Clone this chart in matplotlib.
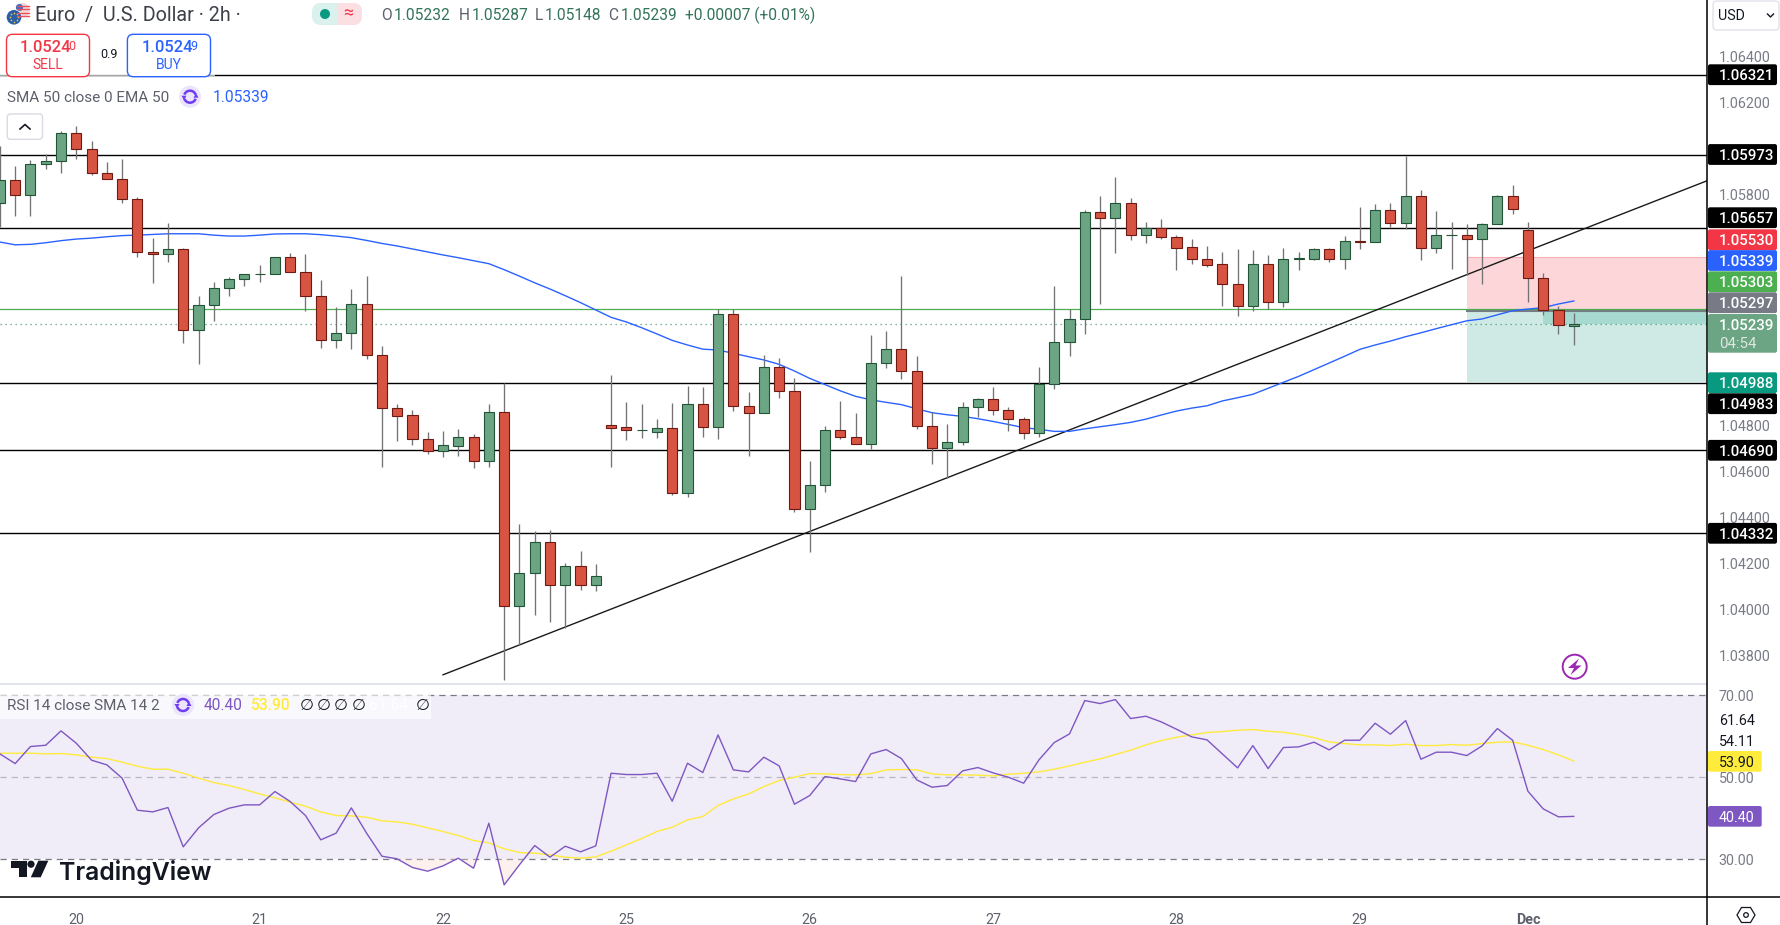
import matplotlib
matplotlib.use('Agg')
import matplotlib.pyplot as plt
import numpy as np
from matplotlib.patches import Circle, FancyBboxPatch, Polygon, Rectangle, Arc

plt.rcParams['font.family'] = ['Roboto', 'DejaVu Sans']

# candles
opens = [1.05763, 1.05863, 1.05798, 1.05932, 1.05945, 1.06067, 1.05997, 1.05893, 1.05867, 1.05780,
         1.05550, 1.05541, 1.05563, 1.05211, 1.05320, 1.05394, 1.05433, 1.05455, 1.05455, 1.05528,
         1.05463, 1.05359, 1.05168, 1.05198, 1.05324, 1.05103, 1.04873, 1.04842, 1.04738, 1.04686,
         1.04711, 1.04747, 1.04643, 1.04855, 1.04013, 1.04160, 1.04291, 1.04104, 1.04187, 1.04104,
         1.04799, 1.04790, 1.04777, 1.04771, 1.04786, 1.04504, 1.04890, 1.04790, 1.05281, 1.04881,
         1.04854, 1.05051, 1.04947, 1.04434, 1.04538, 1.04777, 1.04747, 1.04716, 1.05068, 1.05129,
         1.05033, 1.04795, 1.04699, 1.04725, 1.04877, 1.04912, 1.04864, 1.04825, 1.04764, 1.04977,
         1.05159, 1.05259, 1.05724, 1.05701, 1.05763, 1.05624, 1.05654, 1.05615, 1.05572, 1.05520,
         1.05498, 1.05411, 1.05316, 1.05498, 1.05336, 1.05523, 1.05523, 1.05563, 1.05520, 1.05598,
         1.05594, 1.05733, 1.05676, 1.05793, 1.05570, 1.05624, 1.05624, 1.05610, 1.05672, 1.05793,
         1.05646, 1.05437, 1.05301, 1.05232]
highs = [1.06012, 1.05925, 1.05951, 1.05977, 1.06076, 1.06099, 1.06034, 1.05942, 1.05956, 1.05789,
         1.05612, 1.05678, 1.05568, 1.05361, 1.05421, 1.05443, 1.05455, 1.05495, 1.05528, 1.05547,
         1.05543, 1.05430, 1.05311, 1.05391, 1.05447, 1.05143, 1.04892, 1.04865, 1.04770, 1.04774,
         1.04783, 1.04761, 1.04892, 1.04981, 1.04370, 1.04340, 1.04344, 1.04201, 1.04253, 1.04197,
         1.05017, 1.04900, 1.04892, 1.04826, 1.04896, 1.04970, 1.04965, 1.05303, 1.05303, 1.04944,
         1.05104, 1.05091, 1.05004, 1.04644, 1.04796, 1.04905, 1.04852, 1.05191, 1.05209, 1.05447,
         1.05100, 1.04857, 1.04805, 1.04900, 1.04918, 1.04965, 1.04879, 1.04835, 1.05052, 1.05404,
         1.05303, 1.05734, 1.05795, 1.05877, 1.05786, 1.05682, 1.05695, 1.05625, 1.05608, 1.05578,
         1.05552, 1.05565, 1.05560, 1.05539, 1.05569, 1.05552, 1.05568, 1.05568, 1.05621, 1.05749,
         1.05760, 1.05764, 1.05969, 1.05821, 1.05730, 1.05682, 1.05673, 1.05676, 1.05798, 1.05843,
         1.05682, 1.05460, 1.05317, 1.05287]
lows = [1.05659, 1.05709, 1.05709, 1.05914, 1.05896, 1.05957, 1.05885, 1.05867, 1.05766, 1.05531,
        1.05418, 1.05510, 1.05158, 1.05067, 1.05253, 1.05362, 1.05405, 1.05423, 1.05455, 1.05463,
        1.05297, 1.05136, 1.05136, 1.05132, 1.05088, 1.04619, 1.04732, 1.04715, 1.04674, 1.04663,
        1.04667, 1.04615, 1.04619, 1.03694, 1.03845, 1.03975, 1.03946, 1.03917, 1.04084, 1.04081,
        1.04619, 1.04737, 1.04745, 1.04745, 1.04496, 1.04489, 1.04750, 1.04741, 1.04863, 1.04667,
        1.04854, 1.04919, 1.04424, 1.04250, 1.04511, 1.04741, 1.04716, 1.04698, 1.05048, 1.05000,
        1.04784, 1.04632, 1.04572, 1.04715, 1.04835, 1.04844, 1.04776, 1.04740, 1.04750, 1.04958,
        1.05101, 1.05197, 1.05326, 1.05549, 1.05604, 1.05592, 1.05610, 1.05475, 1.05500, 1.05488,
        1.05319, 1.05275, 1.05297, 1.05303, 1.05314, 1.05473, 1.05518, 1.05510, 1.05479, 1.05566,
        1.05594, 1.05659, 1.05653, 1.05517, 1.05549, 1.05479, 1.05452, 1.05413, 1.05672, 1.05717,
        1.05336, 1.05278, 1.05196, 1.05148]
closes = [1.05863, 1.05798, 1.05932, 1.05945, 1.06067, 1.05997, 1.05893, 1.05867, 1.05780, 1.05550,
          1.05541, 1.05563, 1.05211, 1.05320, 1.05394, 1.05433, 1.05455, 1.05455, 1.05528, 1.05463,
          1.05359, 1.05168, 1.05198, 1.05324, 1.05103, 1.04873, 1.04841, 1.04738, 1.04686, 1.04712,
          1.04747, 1.04643, 1.04855, 1.04013, 1.04160, 1.04291, 1.04104, 1.04187, 1.04104, 1.04143,
          1.04789, 1.04777, 1.04777, 1.04786, 1.04504, 1.04890, 1.04790, 1.05281, 1.04881, 1.04854,
          1.05051, 1.04947, 1.04434, 1.04538, 1.04777, 1.04747, 1.04716, 1.05068, 1.05129, 1.05033,
          1.04795, 1.04699, 1.04725, 1.04877, 1.04912, 1.04864, 1.04825, 1.04764, 1.04977, 1.05159,
          1.05259, 1.05724, 1.05701, 1.05763, 1.05624, 1.05654, 1.05615, 1.05570, 1.05520, 1.05497,
          1.05411, 1.05316, 1.05498, 1.05336, 1.05520, 1.05524, 1.05563, 1.05520, 1.05598, 1.05597,
          1.05733, 1.05676, 1.05793, 1.05570, 1.05624, 1.05625, 1.05610, 1.05672, 1.05793, 1.05740,
          1.05437, 1.05301, 1.05233, 1.05239]

ema50 = [1.05595, 1.05583, 1.05585, 1.05592, 1.05601, 1.05608, 1.05612, 1.05618, 1.05623, 1.05625,
         1.05628, 1.05631, 1.05631, 1.05631, 1.05625, 1.05621, 1.05621, 1.05625, 1.05630, 1.05631,
         1.05631, 1.05627, 1.05621, 1.05614, 1.05602, 1.05589, 1.05578, 1.05565, 1.05552, 1.05539,
         1.05527, 1.05514, 1.05501, 1.05475, 1.05447, 1.05418, 1.05391, 1.05362, 1.05332, 1.05300,
         1.05268, 1.05248, 1.05223, 1.05196, 1.05168, 1.05148, 1.05130, 1.05126, 1.05112, 1.05097,
         1.05083, 1.05064, 1.05035, 1.05003, 1.04976, 1.04949, 1.04925, 1.04910, 1.04899, 1.04889,
         1.04871, 1.04854, 1.04845, 1.04838, 1.04828, 1.04816, 1.04803, 1.04789, 1.04782, 1.04773,
         1.04773, 1.04784, 1.04793, 1.04802, 1.04812, 1.04826, 1.04844, 1.04861, 1.04874, 1.04884,
         1.04905, 1.04919, 1.04934, 1.04960, 1.04986, 1.05012, 1.05041, 1.05070, 1.05099, 1.05129,
         1.05148, 1.05165, 1.05184, 1.05201, 1.05219, 1.05236, 1.05253, 1.05261, 1.05279, 1.05297,
         1.05304, 1.05310, 1.05326, 1.05339]

rsi = [55.65, 53.29, 57.44, 57.76, 61.26, 58.25, 54.11, 52.97, 49.72, 41.91,
       41.50, 42.56, 32.97, 37.60, 40.85, 42.40, 43.21, 43.21, 46.46, 44.02,
       40.61, 34.68, 36.30, 42.48, 36.30, 30.69, 30.04, 27.93, 27.03, 28.33,
       30.20, 27.76, 38.74, 23.70, 28.58, 33.29, 30.45, 33.13, 31.75, 33.21,
       50.93, 50.61, 50.61, 50.93, 44.11, 53.37, 51.10, 60.28, 51.75, 51.26,
       54.84, 52.72, 43.37, 45.49, 50.12, 49.55, 48.90, 55.65, 56.71, 54.51,
       49.31, 47.52, 47.93, 51.50, 52.32, 51.02, 49.96, 48.50, 54.19, 58.41,
       60.53, 68.66, 67.93, 68.90, 64.27, 64.84, 63.46, 61.67, 59.80, 59.07,
       55.65, 52.24, 57.68, 52.07, 57.20, 57.36, 58.50, 56.63, 58.98, 58.98,
       63.13, 60.45, 63.78, 54.35, 56.06, 56.06, 55.24, 57.60, 61.83, 58.98,
       46.54, 42.24, 40.29, 40.40]
rsi_ma = [55.81, 55.81, 55.81, 55.65, 55.73, 55.41, 54.84, 54.51, 53.62, 52.64,
          51.91, 51.91, 50.93, 49.72, 48.66, 47.93, 46.95, 45.89, 44.92, 43.86,
          42.89, 41.50, 40.61, 40.53, 40.20, 39.31, 39.06, 38.49, 37.60, 36.71,
          35.73, 34.51, 33.94, 32.48, 31.59, 31.42, 31.02, 30.45, 30.20, 30.53,
          31.91, 33.46, 35.00, 36.71, 37.76, 39.55, 40.37, 43.05, 44.67, 45.89,
          47.68, 49.15, 49.96, 50.85, 50.77, 50.61, 50.53, 50.85, 51.75, 51.83,
          51.75, 50.77, 50.53, 50.53, 50.45, 50.28, 50.69, 50.93, 51.26, 51.91,
          52.72, 53.62, 54.43, 55.49, 56.54, 57.85, 58.90, 59.72, 60.28, 60.85,
          61.10, 61.42, 61.59, 61.18, 60.93, 60.37, 59.63, 58.58, 58.17, 57.85,
          57.85, 57.68, 58.01, 57.68, 57.68, 57.93, 57.76, 58.17, 58.50, 58.58,
          57.76, 56.71, 55.41, 53.90]

levels = [1.06321, 1.05973, 1.05657, 1.04983, 1.04690, 1.04332]
trend_bars = [29, 111.72]
trend_prices = [1.03716, 1.05861]
bid_line = 1.05303
last_price = 1.05239
stop_price = 1.05530
entry_price = 1.05297
target_price = 1.04988
position_start = 96
fill_start = 101

day_bars = [5, 17, 29, 41, 53, 65, 77, 89, 100]
day_labels = ['20', '21', '22', '25', '26', '27', '28', '29', 'Dec']
price_ticks = [1.064, 1.062, 1.058, 1.048, 1.046, 1.044, 1.042, 1.040, 1.038]
rsi_ticks = [70, 50, 30]

GREEN, GREEN_EDGE = '#6ba583', '#225437'
RED, RED_EDGE = '#d75442', '#6e1a13'
WICK = '#737375'
GREY = '#787b86'
BLUE = '#2962ff'
PURPLE = '#7e57c2'
YELLOW = '#ffeb3b'

opens = np.array(opens)
closes = np.array(closes)
rsi = np.array(rsi)
x = np.arange(len(closes))

W, H = 1780, 925
fig = plt.figure(figsize=(W / 100, H / 100), dpi=100)


def px_axes(left, top, right, bottom):
    return fig.add_axes([left / W, 1 - bottom / H, (right - left) / W, (bottom - top) / H])


ax = px_axes(0, 0, 1707, 684)
ax2 = px_axes(0, 684, 1707, 897.3)
xlim = (0.007, 111.72)

# price pane
for lvl in levels:
    ax.axhline(lvl, color='black', lw=1.0, zorder=2)
ax.fill_between([position_start, xlim[1]], entry_price, stop_price, color='#fcd6d9', lw=0, zorder=1)
ax.fill_between([position_start, xlim[1]], target_price, entry_price, color='#cfe9e4', lw=0, zorder=1)
ax.fill_between([fill_start, xlim[1]], last_price, entry_price, color='#a6d9d0', lw=0, zorder=1)
ax.plot([position_start, xlim[1]], [stop_price, stop_price], color='#f7b0b6', lw=0.8, zorder=1)
ax.plot([position_start, xlim[1]], [entry_price, entry_price], color=GREY, lw=1.5, zorder=2)
ax.axhline(bid_line, color='#4caf50', lw=0.9, zorder=2)
ax.axhline(last_price, color='#4f9c78', lw=0.9, ls=(0, (1, 3)), zorder=2)
ax.plot(trend_bars, trend_prices, color='#1a1a1a', lw=1.0, zorder=2)
ax.plot(x, ema50, color=BLUE, lw=1.0, zorder=2.5)

up = closes >= opens
ax.vlines(x, lows, highs, color=WICK, lw=0.95, zorder=3)
for mask, fill, edge in [(up, GREEN, GREEN_EDGE), (~up, RED, RED_EDGE)]:
    bottoms = np.minimum(opens, closes)[mask]
    heights = np.abs(closes - opens)[mask]
    ax.bar(x[mask], heights, bottom=bottoms, width=0.66, color=fill, edgecolor=edge, lw=0.8, zorder=4)

ax.set_xlim(xlim)
ax.set_ylim(1.03676, 1.06646)
ax.set_xticks([])
ax.yaxis.tick_right()
ax.set_yticks(price_ticks)
ax.set_yticklabels(['%.5f' % t for t in price_ticks], color=GREY, fontsize=10.3)
ax.tick_params(axis='y', length=0, pad=8.5)
for s in ax.spines.values():
    s.set_visible(False)

# rsi pane
ax2.axhspan(30, 70, color='#f0ecf8', lw=0, zorder=0)
ax2.axhline(70, color=GREY, lw=0.9, ls=(0, (5, 4)), zorder=1)
ax2.axhline(50, color='#b8b8c2', lw=0.9, ls=(0, (5, 4)), zorder=1)
ax2.axhline(30, color=GREY, lw=0.9, ls=(0, (5, 4)), zorder=1)
ax2.fill_between(x, rsi, 30, where=rsi < 30, interpolate=True, color='#f8d9cc', alpha=0.35, lw=0, zorder=1)
ax2.plot(x, rsi_ma, color=YELLOW, lw=1.0, zorder=2)
ax2.plot(x, rsi, color=PURPLE, lw=1.0, zorder=3)
ax2.set_xlim(xlim)
ax2.set_ylim(20.66, 72.7)
ax2.set_xticks(day_bars)
ax2.set_xticklabels(day_labels, color='#5d606b', fontsize=10.3)
ax2.get_xticklabels()[-1].set_fontweight('bold')
ax2.tick_params(axis='x', length=0, pad=11)
ax2.yaxis.tick_right()
ax2.set_yticks(rsi_ticks)
ax2.set_yticklabels(['%.2f' % t for t in rsi_ticks], color=GREY, fontsize=10.3)
ax2.tick_params(axis='y', length=0, pad=8.5)
for s in ax2.spines.values():
    s.set_visible(False)

# everything below is the chart furniture, placed in figure pixels
ui = fig.add_axes([0, 0, 1, 1], facecolor='none')
ui.set_xlim(0, W)
ui.set_ylim(H, 0)
ui.axis('off')

ui.plot([0, 1707], [683.5, 683.5], color='#e0e3eb', lw=1.4)
ui.plot([0, W], [897.3, 897.3], color='black', lw=1.1)
ui.plot([1707, 1707], [0, H], color='black', lw=1.1)


def label(px, py, s, color='#131722', size=10.3, **kw):
    kw.setdefault('va', 'center')
    return ui.text(px, py, s, color=color, fontsize=size, **kw)


def box(x0, y0, x1, y1, face, edge='none', lw=1.0, rad=3, **kw):
    p = FancyBboxPatch((x0 + rad, y0 + rad), x1 - x0 - 2 * rad, y1 - y0 - 2 * rad,
                       boxstyle='round,pad=%g,rounding_size=%g' % (rad, rad),
                       fc=face, ec=edge, lw=lw, **kw)
    ui.add_patch(p)
    return p


# price scale tags
tags = [(74.7, '1.06321', 'black'), (154.5, '1.05973', 'black'), (217.7, '1.05657', 'black'),
        (239.7, '1.05530', '#f23645'), (260.5, '1.05339', BLUE), (281.7, '1.05303', '#4caf50'),
        (302.7, '1.05297', GREY), (382.7, '1.04988', '#089981'), (403.7, '1.04983', 'black'),
        (450.3, '1.04690', 'black'), (533.3, '1.04332', 'black')]
tag_shift = 1.6
box(1708, 314, 1777, 352.7, GREEN, rad=2)
label(1718.8, 324.3 + tag_shift, '1.05239', 'white', 10.8, fontweight='medium')
label(1718.8, 342.7 + tag_shift, '04:54', '#dfe7e2', 10.8)
for py, s, col in tags:
    box(1708, py - 10.4, 1777, py + 10.4, col, rad=2)
    label(1718.8, py + tag_shift, s, 'white', 10.8, fontweight='medium')

# rsi scale tags
label(1718.8, 719 + tag_shift, '61.64')
label(1718.8, 740 + tag_shift, '54.11')
box(1708, 751, 1761.7, 771.7, YELLOW, rad=2)
label(1718.8, 761.3 + tag_shift, '53.90')
box(1708, 806, 1761.7, 826.7, PURPLE, rad=2)
label(1718.8, 816.5 + tag_shift, '40.40', 'white')

# currency selector
box(1713, 1, 1779, 30, 'white', '#e0e3eb', rad=4)
label(1717.7, 15.7, 'USD')
ui.plot([1767.5, 1770.5, 1773.5], [14, 17, 14], color='#131722', lw=1.0)

# settings hexagon
hex_x = 1746 + 9 * np.array([1, 0.5, -0.5, -1, -0.5, 0.5])
hex_y = 915 + 7.5 * np.array([0, 1, 1, 0, -1, -1])
ui.add_patch(Polygon(np.c_[hex_x, hex_y], closed=True, fc='none', ec='#131722', lw=0.9))
ui.add_patch(Circle((1746, 915), 2.3, fc='none', ec='#131722', lw=0.9))

# symbol header
ui.add_patch(Circle((22.7, 10), 7, fc='#f7d9d9', ec='none'))
for yy in [5.5, 9, 12.5, 16]:
    ui.plot([17, 29], [yy, yy], color='#e8505b', lw=1.0)
ui.add_patch(Circle((19.5, 7.5), 3.6, fc='#3c6fc4', ec='none'))
ui.add_patch(Circle((14, 17.3), 8, fc='white', ec='none'))
ui.add_patch(Circle((14, 17.3), 7.3, fc='#2a5ea8', ec='none'))
ang = np.linspace(0, 2 * np.pi, 9)[:-1]
ui.scatter(14 + 4.2 * np.cos(ang), 17.3 + 4.2 * np.sin(ang), s=1.5, color='#e6c84a', lw=0)
label(35, 15.5, 'Euro  /  U.S. Dollar · 2h ·', '#3d4049', 14.2)

box(312, 3, 362, 25, '#daf1ed', rad=9)
ui.add_patch(Rectangle((337, 3), 16, 22, fc='#fbdfe2', ec='none'))
box(337, 3, 362, 25, '#fbdfe2', rad=9)
ui.add_patch(Circle((325, 14), 5, fc='#089981', ec='none'))
label(348, 14, '≈', '#f23645', 13, ha='center')

ohlc_grey = '#5d606b'
ohlc_green = '#33735a'
for px, s, col in [(381.5, 'O', ohlc_grey), (394, '1.05232', ohlc_green),
                   (459, 'H', ohlc_grey), (471.5, '1.05287', ohlc_green),
                   (535, 'L', ohlc_grey), (545, '1.05148', ohlc_green),
                   (608.4, 'C', ohlc_grey), (621, '1.05239', ohlc_green),
                   (685, '+0.00007 (+0.01%)', ohlc_green)]:
    label(px, 15, s, col, 11.2)

# buy and sell buttons
ui.add_patch(Rectangle((0, 34), 215, 42, fc='white', ec='none', alpha=0.65))
box(6.5, 34.3, 89.5, 76.7, 'white', '#f23645', rad=6)
box(127.4, 34.3, 210.5, 76.7, 'white', BLUE, rad=6)
label(20, 48, '1.0524', '#f23645', 11.8, fontweight='medium')
label(68.5, 46, '0', '#f23645', 9)
label(47.8, 65, 'SELL', '#f23645', 10, ha='center')
label(108.7, 54.3, '0.9', size=9, ha='center')
label(142, 48, '1.0524', BLUE, 11.8, fontweight='medium')
label(190, 46, '9', BLUE, 9)
label(169, 65, 'BUY', BLUE, 10, ha='center')


def reload_icon(cx, cy):
    ui.add_patch(Circle((cx, cy), 11, fc='#ebe5fb', ec='none'))
    ui.add_patch(Arc((cx, cy), 12, 12, theta1=200, theta2=340, color='#6f3cf2', lw=1.8))
    ui.add_patch(Arc((cx, cy), 12, 12, theta1=20, theta2=160, color='#6f3cf2', lw=1.8))
    ui.add_patch(Polygon([(cx + 6, cy - 3.5), (cx + 8.5, cy + 1), (cx + 3.5, cy + 1)], fc='#6f3cf2', ec='none'))
    ui.add_patch(Polygon([(cx - 6, cy + 3.5), (cx - 8.5, cy - 1), (cx - 3.5, cy - 1)], fc='#6f3cf2', ec='none'))


# indicator legend
label(7, 97.7, 'SMA 50 close 0 EMA 50', '#5d606b', 11)
reload_icon(190, 96.7)
label(212.4, 97.7, '1.05339', BLUE, 11.2)
box(7.3, 114, 42.5, 139.3, 'white', '#d8dbe3', rad=3)
ui.plot([20, 25, 30], [129, 124.5, 129], color='#131722', lw=1.2)

# rsi legend
ui.add_patch(Rectangle((0, 695), 430.5, 24, fc='white', ec='none', alpha=0.65))
label(7, 706, 'RSI 14 close SMA 14 2', '#5d606b', 11)
reload_icon(183, 705)
label(203.6, 706, '40.40', PURPLE, 11.2)
label(251.4, 706, '53.90', YELLOW, 11.2, fontweight='medium')
for px in [299.3, 316.5, 334, 352, 416]:
    label(px, 705, '∅', '#131722', 11.5)
label(369, 706, '61.64', 'white', 11.2)

# lightning button
ui.add_patch(Circle((1574.7, 666.7), 12, fc='white', ec='#9c27b0', lw=1.4))
ui.add_patch(Polygon([(1579, 658.5), (1568, 668), (1574, 668), (1570.5, 675), (1581.5, 665.5), (1575.5, 665.5)],
                     closed=True, fc='#9c27b0', ec='none'))

# tradingview logo
logo = '#131722'
ui.add_patch(Polygon([(11, 860.7), (26.7, 860.7), (26.7, 877.3), (19.3, 877.3), (19.3, 868), (11, 868)], fc=logo, ec='none'))
ui.add_patch(Circle((31, 864.2), 3.6, fc=logo, ec='none'))
ui.add_patch(Polygon([(38.3, 860.7), (48.3, 860.7), (40.7, 877.3), (30.8, 877.3)], fc=logo, ec='none'))
label(59.5, 872.5, 'TradingView', logo, 17.8, fontweight='semibold', family=['Inter', 'DejaVu Sans'])

fig.savefig('out.png', dpi=100)
